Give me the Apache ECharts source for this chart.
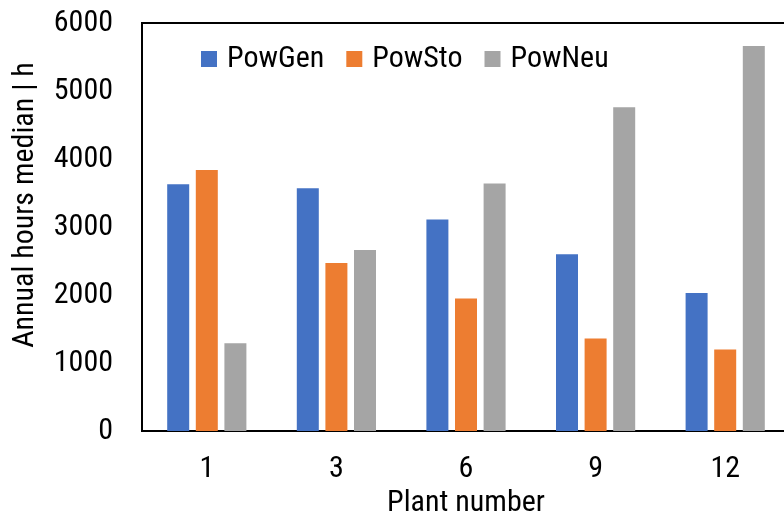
<!DOCTYPE html>
<html>
<head>
<meta charset="utf-8">
<style>
  html, body { margin: 0; padding: 0; background: #fff; }
  #chart { width: 784px; height: 516px; }
</style>
<script src="https://cdn.jsdelivr.net/npm/echarts@6/dist/echarts.min.js"></script>
</head>
<body>
<div id="chart"></div>
<script>
// Plant numbers along the x axis
const plants = ['1', '3', '6', '9', '12'];
// Median annual operating hours per plant (h)
const powGen = [3630, 3570, 3110, 2600, 2030];
const powSto = [3840, 2470, 1950, 1360, 1200];
const powNeu = [1290, 2660, 3640, 4760, 5660];
const yTicks = { min: 0, max: 6000, interval: 1000 };

const FONT = "'Roboto Condensed', 'Liberation Sans', Arial, sans-serif";
const FS = 30;
const chart = echarts.init(document.getElementById('chart'), null, { renderer: 'canvas' });

const bar = (name, data, color) => ({
  name, type: 'bar', data,
  barWidth: 22, barGap: '30%',
  itemStyle: { color },
  animation: false
});

chart.setOption({
  animation: false,
  textStyle: { fontFamily: FONT },
  legend: {
    left: 201, top: 44, padding: 0,
    itemWidth: 16, itemHeight: 16, itemGap: 22,
    icon: 'rect',
    textStyle: { fontFamily: FONT, fontSize: FS, color: '#000', width: 92, padding: [0, 0, 0, 5] },
    data: ['PowGen', 'PowSto', 'PowNeu']
  },
  grid: {
    left: 142, top: 23, bottom: 85, right: -6,
    outerBoundsMode: 'none',
    show: true, borderColor: '#000', borderWidth: 2, backgroundColor: 'transparent'
  },
  xAxis: {
    type: 'category', data: plants,
    axisLine: { show: false },
    axisTick: { show: false },
    axisLabel: { fontFamily: FONT, fontSize: FS, color: '#000', margin: 23 },
    name: 'Plant number',
    nameLocation: 'middle', nameGap: 57,
    nameTextStyle: { fontFamily: FONT, fontSize: FS, color: '#000' }
  },
  yAxis: {
    type: 'value', min: yTicks.min, max: yTicks.max, interval: yTicks.interval,
    axisLine: { show: false },
    axisTick: { show: false },
    splitLine: { show: false },
    axisLabel: { fontFamily: FONT, fontSize: FS, color: '#000', margin: 29, formatter: v => String(v) },
    name: 'Annual hours median | h',
    nameLocation: 'middle', nameGap: 102,
    nameTextStyle: { fontFamily: FONT, fontSize: FS, color: '#000', padding: [0, 0, 0, 44] }
  },
  series: [
    bar('PowGen', powGen, '#4472C4'),
    bar('PowSto', powSto, '#ED7D31'),
    bar('PowNeu', powNeu, '#A5A5A5')
  ]
});
</script>
</body>
</html>
